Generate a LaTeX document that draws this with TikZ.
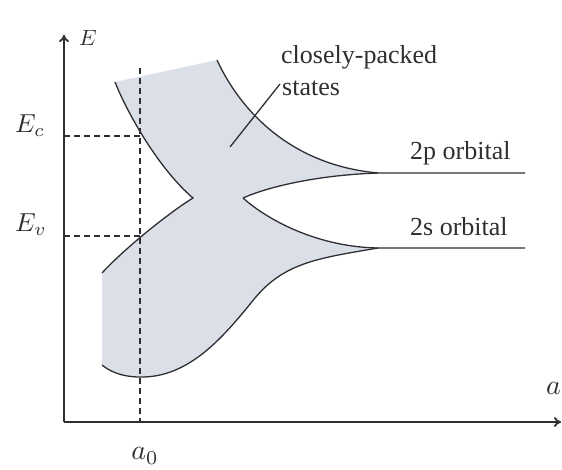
\documentclass[tikz,border=0pt]{standalone}
\usepackage{fontspec}
\usepackage{graphicx}
\setmainfont{Liberation Serif}
\usetikzlibrary{arrows.meta}
\definecolor{bandfill}{rgb}{0.86,0.88,0.91}
\definecolor{ink}{rgb}{0.18,0.18,0.2}
\begin{document}
\begin{tikzpicture}[x=1pt,y=-1pt,
  axis/.style={line width=1.8pt,draw=ink,-{To[length=7pt,width=10pt]}},
  curve/.style={line width=1.3pt,draw=ink},
  guide/.style={line width=1.4pt,draw=ink,dash pattern=on 6pt off 4pt},
  lbl/.style={font=\fontsize{26}{30}\selectfont,inner sep=0pt,text=ink},
  mlbl/.style={inner sep=0pt,text=ink}]
\useasboundingbox (0,0) rectangle (562,470);
% shaded band region
\fill[bandfill] (102,273) .. controls (125,248) and (170,212) .. (193,198)
  .. controls (160,170) and (128,115) .. (115,82)
  -- (217,60)
  .. controls (240,110) and (290,165) .. (378,173)
  .. controls (320,175) and (270,186) .. (243,198)
  .. controls (270,222) and (320,247) .. (378,248)
  .. controls (320,258) and (285,262) .. (255,298)
  .. controls (225,335) and (190,378) .. (140,377)
  .. controls (120,377) and (108,370) .. (102,365) -- cycle;
% coordinates
\coordinate (O) at (64,422);
\coordinate (Ytop) at (64,35);
\coordinate (Xend) at (561,422);
\coordinate (a0top) at (140,68);
\coordinate (a0bot) at (140,422);
\coordinate (Ecl) at (64,136);
\coordinate (Ecr) at (140,136);
\coordinate (Evl) at (64,236);
\coordinate (Evr) at (140,236);
\coordinate (p2) at (378,173);
\coordinate (p2end) at (525,173);
\coordinate (s2) at (378,248);
\coordinate (s2end) at (525,248);
\coordinate (ptrA) at (230,147);
\coordinate (ptrB) at (280,84);
% dashed guides
\draw[guide] (a0top) -- (a0bot);
\draw[guide] (Ecl) -- (Ecr);
\draw[guide] (Evl) -- (Evr);
% curves
\draw[curve] (115,82) .. controls (128,115) and (160,170) .. (193,198)
  .. controls (170,212) and (125,248) .. (102,273);
\draw[curve] (217,60) .. controls (240,110) and (290,165) .. (p2) -- (p2end);
\draw[curve] (243,198) .. controls (270,186) and (320,175) .. (p2);
\draw[curve] (243,198) .. controls (270,222) and (320,247) .. (s2) -- (s2end);
\draw[curve] (s2) .. controls (320,258) and (285,262) .. (255,298)
  .. controls (225,335) and (190,378) .. (140,377)
  .. controls (120,377) and (108,370) .. (102,365);
\draw[curve] (ptrA) -- (ptrB);
% axes
\draw[axis] (O) -- (Ytop);
\draw[axis] (O) -- (Xend);
% labels
\node[mlbl] (Elbl) at (88,38) {\scalebox{2.2}{$E$}};
\node[mlbl] (Eclbl) at (30,126) {\scalebox{2.6}{$E_c$}};
\node[mlbl] (Evlbl) at (31,225) {\scalebox{2.6}{$E_v$}};
\node[mlbl] (a0lbl) at (145,456) {\scalebox{2.8}{$a_0$}};
\node[mlbl,anchor=east] (albl) at (561,388) {\scalebox{2.8}{$a$}};
\node[lbl,anchor=west] (cp) at (281,57) {closely-packed};
\node[lbl,anchor=west] (st) at (282,88) {states};
\node[lbl,anchor=west] (p2lbl) at (410,153) {2p orbital};
\node[lbl,anchor=west] (s2lbl) at (410,227) {2s orbital};
\end{tikzpicture}
\end{document}
